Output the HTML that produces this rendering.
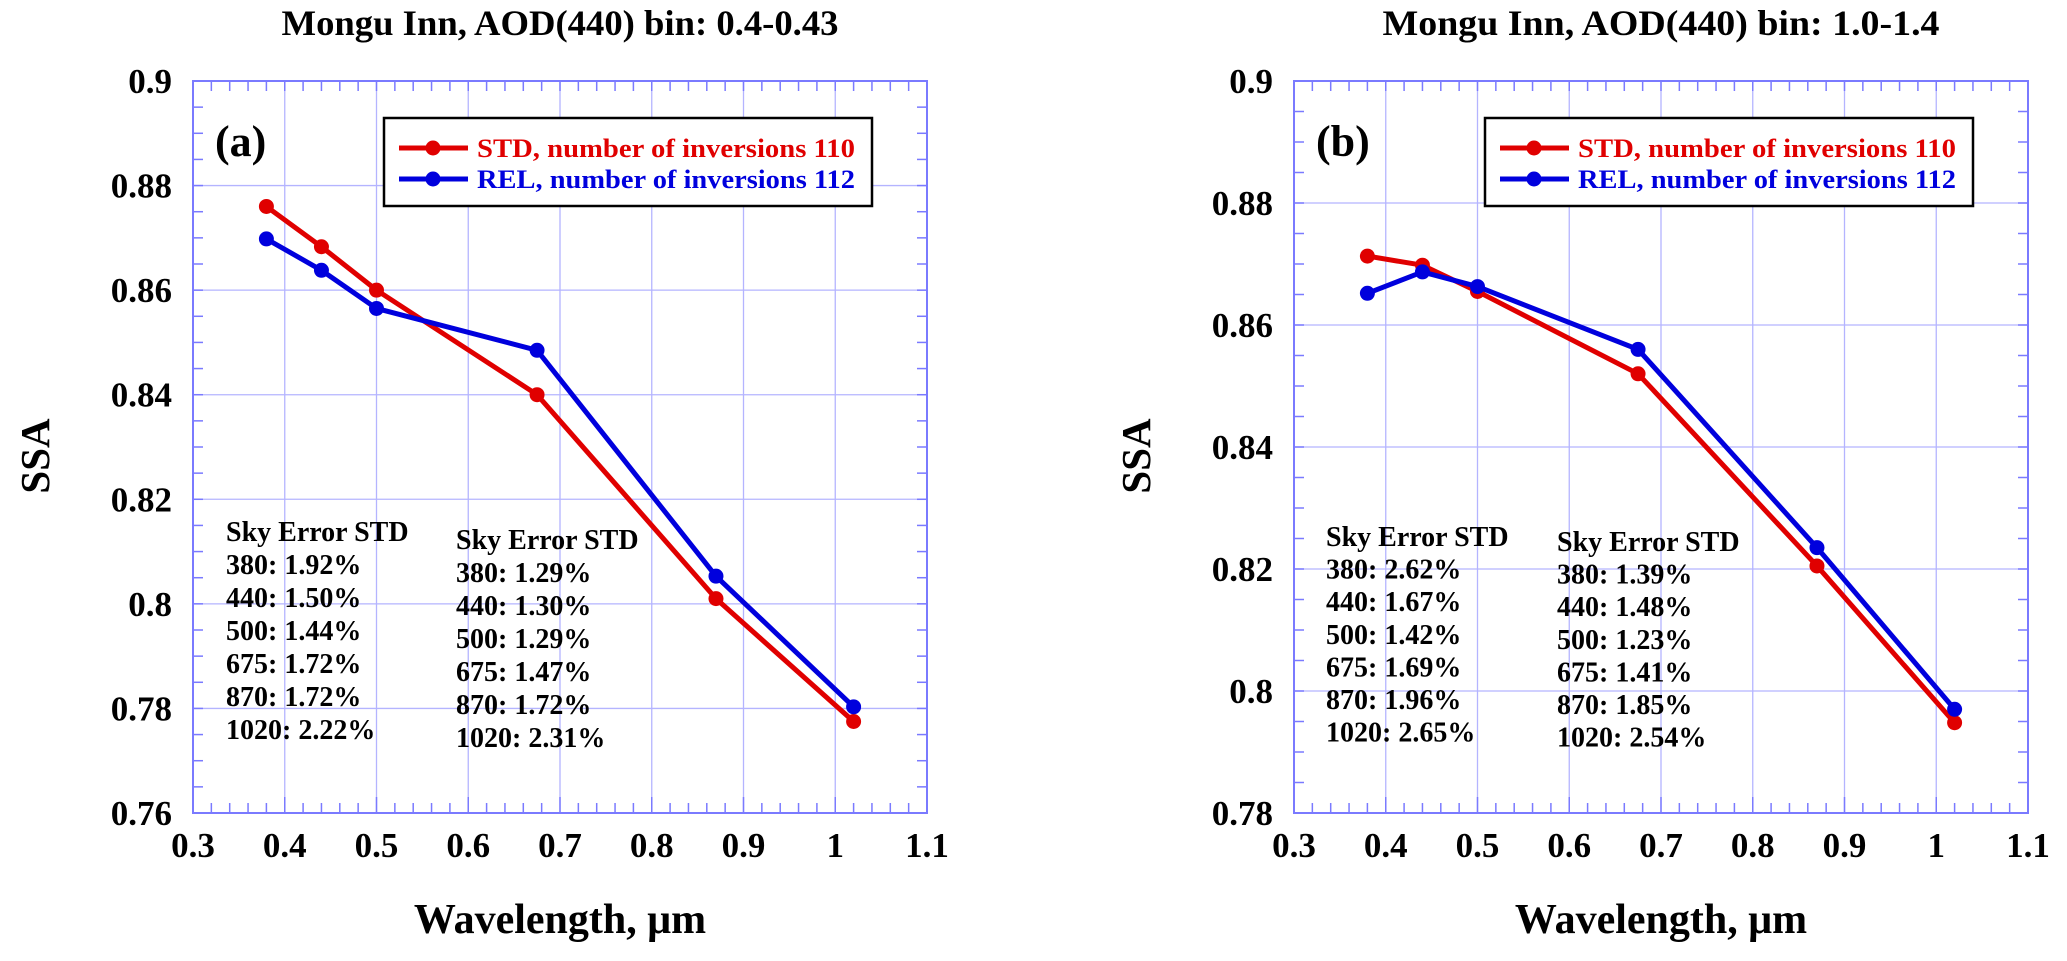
<!DOCTYPE html>
<html><head><meta charset="utf-8"><style>
html,body{margin:0;padding:0;background:#fff;}
svg{display:block;font-family:"Liberation Serif",serif;font-weight:bold;}
</style></head><body>
<svg id="fig" width="2067" height="961" viewBox="0 0 2067 961" xmlns="http://www.w3.org/2000/svg"></svg>
<script>
const wavelengths = [0.38, 0.44, 0.5, 0.675, 0.87, 1.02];
const stdA = [0.876, 0.8683, 0.86, 0.84, 0.801, 0.7775];
const relA = [0.8698, 0.8638, 0.8565, 0.8485, 0.8053, 0.7803];
const stdB = [0.8713, 0.8698, 0.8655, 0.852, 0.8205, 0.7948];
const relB = [0.8652, 0.8687, 0.8663, 0.856, 0.8235, 0.797];
const xTicks = [0.3, 0.4, 0.5, 0.6, 0.7, 0.8, 0.9, 1, 1.1];
const xTickLabels = ["0.3","0.4","0.5","0.6","0.7","0.8","0.9","1","1.1"];
const yTicksA = [0.76,0.78,0.8,0.82,0.84,0.86,0.88,0.9];
const yTickLabelsA = ["0.76","0.78","0.8","0.82","0.84","0.86","0.88","0.9"];
const yTicksB = [0.78,0.8,0.82,0.84,0.86,0.88,0.9];
const yTickLabelsB = ["0.78","0.8","0.82","0.84","0.86","0.88","0.9"];
const skyA1 = ["Sky Error STD","380: 1.92%","440: 1.50%","500: 1.44%","675: 1.72%","870: 1.72%","1020: 2.22%"];
const skyA2 = ["Sky Error STD","380: 1.29%","440: 1.30%","500: 1.29%","675: 1.47%","870: 1.72%","1020: 2.31%"];
const skyB1 = ["Sky Error STD","380: 2.62%","440: 1.67%","500: 1.42%","675: 1.69%","870: 1.96%","1020: 2.65%"];
const skyB2 = ["Sky Error STD","380: 1.39%","440: 1.48%","500: 1.23%","675: 1.41%","870: 1.85%","1020: 2.54%"];

const NS = "http://www.w3.org/2000/svg";
const svg = document.getElementById('fig');
function mk(tag, attrs, parent){
  const e = document.createElementNS(NS, tag);
  for (const k in attrs) e.setAttribute(k, attrs[k]);
  (parent||svg).appendChild(e);
  return e;
}
const RED = "#e00000", BLUE = "#0000dd", GRID = "#b4b4ff", AXIS = "#7a7aff";

function panel(o){
  const g = mk('g', {});
  
  
  const L=o.x0, R=o.x0+734, T=81, B=813;
  const xs = v => L + (v-0.3)/0.8*(R-L);
  const ys = v => B - (v-o.ymin)/(0.9-o.ymin)*(B-T);
  xTicks.forEach(v=>{ const l=mk('line',{x1:xs(v),x2:xs(v),y1:T,y2:B,stroke:GRID,'stroke-width':1.3},g);
     });
  o.yTicks.forEach(v=>{ const l=mk('line',{x1:L,x2:R,y1:ys(v),y2:ys(v),stroke:GRID,'stroke-width':1.3},g);
     });
  for(let v=0.3; v<1.1001; v+=0.02){ const x=xs(v);
    mk('line',{x1:x,x2:x,y1:B,y2:B-(Math.abs((v*10)%1)<0.01||Math.abs((v*10)%1-1)<0.01?16:10),stroke:AXIS,'stroke-width':1.5},g);
    mk('line',{x1:x,x2:x,y1:T,y2:T+10,stroke:AXIS,'stroke-width':1.5},g);}
  for(let v=o.ymin; v<0.9001; v+=0.005){ const y=ys(v);
    mk('line',{x1:L,x2:L+10,y1:y,y2:y,stroke:AXIS,'stroke-width':1.5},g);
    mk('line',{x1:R,x2:R-10,y1:y,y2:y,stroke:AXIS,'stroke-width':1.5},g);}
  const fr=mk('rect',{x:L,y:T,width:R-L,height:B-T,fill:'none',stroke:AXIS,'stroke-width':2},g);
   
  xTicks.forEach((v,i)=>{ const t=mk('text',{x:xs(v),y:857,'font-size':35,'text-anchor':'middle'},g); t.textContent=xTickLabels[i];
     });
  o.yTicks.forEach((v,i)=>{ const t=mk('text',{x:L-21,y:ys(v)+12,'font-size':35,'text-anchor':'end'},g); t.textContent=o.yLabels[i];
     });
  let t=mk('text',{x:(L+R)/2,y:35,'font-size':36,'text-anchor':'middle',textLength:557,lengthAdjust:'spacingAndGlyphs'},g); t.textContent=o.title;
   
  t=mk('text',{x:(L+R)/2,y:933,'font-size':42,'text-anchor':'middle'},g); t.textContent="Wavelength, \u03bcm";
   
  t=mk('text',{x:0,y:0,'font-size':41,'text-anchor':'middle',transform:`translate(${L-144},456) rotate(-90)`},g); t.textContent="SSA";
   
  t=mk('text',{x:L+22,y:156,'font-size':44},g); t.textContent=o.letter;
   
  [[o.sky1,o.sky1x,o.sky1y],[o.sky2,o.sky2x,o.sky2y]].forEach(([arr,x,y0])=>{
    arr.forEach((s,i)=>{ const tt=mk('text',{x:x,y:y0+i*o.sp+9,'font-size':28},g); tt.textContent=s;
       });
  });
  [[o.std,RED,'std-series'],[o.rel,BLUE,'rel-series']].forEach(([vals,c,n])=>{
    const pts = wavelengths.map((w,i)=>xs(w)+','+ys(vals[i])).join(' ');
    const pl=mk('polyline',{points:pts,fill:'none',stroke:c,'stroke-width':5,'stroke-linejoin':'round'},g);
     
    wavelengths.forEach((w,i)=>{ const c2=mk('circle',{cx:xs(w),cy:ys(vals[i]),r:7.5,fill:c},g);
       });
  });
  const lx=o.legX;
  const lb=mk('rect',{x:lx,y:118,width:488,height:88,fill:'#fff',stroke:'#000','stroke-width':2.5},g);
   
  [["STD, number of inversions 110",RED,157,'legend-entry-std'],["REL, number of inversions 112",BLUE,188,'legend-entry-rel']].forEach(([s,c,y,n])=>{
    mk('line',{x1:lx+15,x2:lx+84,y1:y-9,y2:y-9,stroke:c,'stroke-width':5},g);
    mk('circle',{cx:lx+49,cy:y-9,r:7.5,fill:c},g);
    const tt=mk('text',{x:lx+93,y:y,'font-size':26,fill:c,textLength:378,lengthAdjust:'spacingAndGlyphs'},g); tt.textContent=s;
     
  });
}
panel({name:'panel-a',x0:193,ymin:0.76,yTicks:yTicksA,yLabels:yTickLabelsA,title:"Mongu Inn, AOD(440) bin: 0.4-0.43",letter:"(a)",
  std:stdA,rel:relA,legX:384,sky1:skyA1,sky1x:226,sky1y:532,sky2:skyA2,sky2x:456,sky2y:540,sp:33});
panel({name:'panel-b',x0:1294,ymin:0.78,yTicks:yTicksB,yLabels:yTickLabelsB,title:"Mongu Inn, AOD(440) bin: 1.0-1.4",letter:"(b)",
  std:stdB,rel:relB,legX:1485,sky1:skyB1,sky1x:1326,sky1y:537,sky2:skyB2,sky2x:1557,sky2y:542,sp:32.6});
</script>
</body></html>
